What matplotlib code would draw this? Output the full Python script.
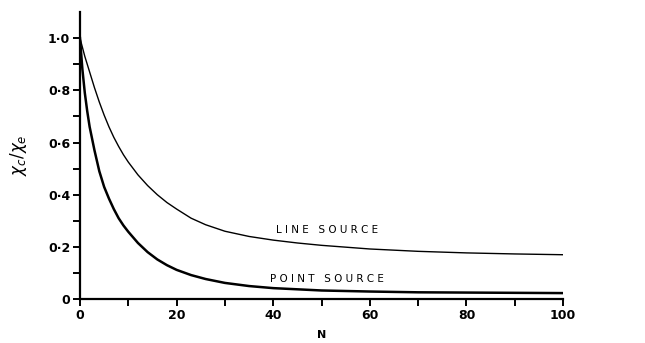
import matplotlib
matplotlib.use('Agg')
from matplotlib import pyplot as plt

# values
n_line = [0, 1, 2, 3, 4, 5, 6, 7, 8, 9, 10, 12, 14, 16, 18, 20, 23, 26, 30, 35,
          40, 45, 50, 60, 70, 80, 90, 100]
line_source = [1.0, 0.93, 0.87, 0.81, 0.755, 0.705, 0.66, 0.62, 0.585, 0.553, 0.525,
               0.476, 0.435, 0.40, 0.37, 0.345, 0.31, 0.285, 0.26, 0.24,
               0.226, 0.215, 0.206, 0.192, 0.183, 0.177, 0.173, 0.17]

n_point = [0, 0.5, 1, 1.5, 2, 3, 4, 5, 6, 7, 8, 9, 10, 12, 14, 16, 18, 20, 23, 26,
           30, 35, 40, 50, 60, 70, 80, 90, 100]
point_source = [1.0, 0.88, 0.79, 0.72, 0.66, 0.57, 0.49, 0.43, 0.385, 0.345, 0.31,
                0.282, 0.258, 0.215, 0.18, 0.152, 0.13, 0.112, 0.092, 0.077,
                0.062, 0.05, 0.042, 0.033, 0.029, 0.026, 0.025, 0.024, 0.023]

x_ticks = [0, 10, 20, 30, 40, 50, 60, 70, 80, 90, 100]
x_ticklabels = ['0', '', '20', '', '40', '', '60', '', '80', '', '100']
y_ticks = [0, 0.1, 0.2, 0.3, 0.4, 0.5, 0.6, 0.7, 0.8, 0.9, 1.0]
y_ticklabels = ['0', '', '0·2', '', '0·4', '', '0·6', '', '0·8', '', '1·0']

fig = plt.figure(dpi=100, figsize=(6.45, 3.43))
ax = fig.add_axes([0.124, 0.128, 0.749, 0.837])

ax.plot(n_line, line_source, c='black', lw=1.0)
ax.plot(n_point, point_source, c='black', lw=1.8)

ax.text(40.5, 0.264, 'L I N E   S O U R C E', fontsize=7.5, va='center')
ax.text(39.3, 0.077, 'P O I N T   S O U R C E', fontsize=7.5, va='center')

ax.set_xlim(0, 100)
ax.set_ylim(0, 1.1)
ax.spines['top'].set_visible(False)
ax.spines['right'].set_visible(False)
ax.spines['left'].set_linewidth(1.6)
ax.spines['bottom'].set_linewidth(1.6)

ax.set_xticks(x_ticks)
ax.set_xticklabels(x_ticklabels, fontweight='bold', fontsize=9)
ax.set_yticks(y_ticks)
ax.set_yticklabels(y_ticklabels, fontweight='bold', fontsize=9)
ax.tick_params(axis='both', direction='out', length=5, width=1.4, pad=2)

ax.set_xlabel('N', fontsize=8, fontweight='bold', labelpad=6)
ax.set_ylabel(r'$\chi_c/\chi_e$', fontsize=12, labelpad=14)

plt.savefig('out.png', dpi=100)
